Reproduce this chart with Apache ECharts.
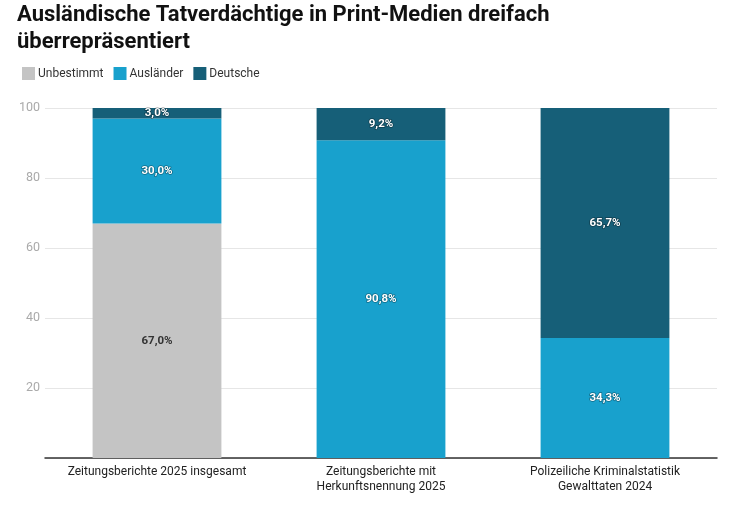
<!DOCTYPE html>
<html><head><meta charset="utf-8">
<script src="https://cdn.jsdelivr.net/npm/echarts@6/dist/echarts.min.js"></script>
<style>html,body{margin:0;padding:0;background:#fff}#c{width:734px;height:507px}</style>
</head><body><div id="c"></div>
<script>
const categories = ['Zeitungsberichte 2025 insgesamt', 'Zeitungsberichte mit\nHerkunftsnennung 2025', 'Polizeiliche Kriminalstatistik\nGewalttaten 2024'];
const unbestimmt = [67.0, 0, 0];
const auslaender = [30.0, 90.8, 34.3];
const deutsche = [3.0, 9.2, 65.7];
const yTicks = [20, 40, 60, 80, 100];

const fmt = p => p.value ? p.value.toFixed(1).replace('.', ',') + '%' : '';
const whiteLabel = {show: true, formatter: fmt, color: '#fff', fontFamily: 'Roboto', fontWeight: 'bold', fontSize: 11.5,
  textBorderColor: 'rgba(0,0,0,0.35)', textBorderWidth: 1.5};
const chart = echarts.init(document.getElementById('c'));
chart.setOption({
  animation: false,
  textStyle: {fontFamily: 'Roboto'},
  title: {text: 'Ausländische Tatverdächtige in Print-Medien dreifach\nüberrepräsentiert', left: 17, top: 2, padding: 0,
    textStyle: {fontFamily: 'Roboto', fontWeight: 'bold', fontSize: 22, color: '#111', lineHeight: 27}},
  legend: {left: 17, top: 62, itemWidth: 13, itemHeight: 13, itemGap: 10, icon: 'rect',
    textStyle: {fontFamily: 'Roboto', fontSize: 12, color: '#333', padding: [0, 0, 0, -2]},
    data: ['Unbestimmt', 'Ausländer', 'Deutsche']},
  grid: {left: 45, right: 17, top: 108, bottom: 49},
  xAxis: {type: 'category', data: categories,
    axisLine: {lineStyle: {color: '#333', width: 1.5}}, axisTick: {show: false},
    axisLabel: {color: '#222', fontSize: 12, lineHeight: 15, margin: 6, interval: 0}},
  yAxis: {type: 'value', min: 0, max: 100, interval: 20,
    axisLabel: {color: '#aaa', fontSize: 12.5, margin: 5, formatter: v => yTicks.includes(v) ? String(v) : ''},
    splitLine: {lineStyle: {color: '#e6e6e6'}}, axisLine: {show: false}, axisTick: {show: false}},
  series: [
    {name: 'Unbestimmt', type: 'bar', stack: 's', data: unbestimmt, barWidth: '57.5%', itemStyle: {color: '#c4c4c4'},
      label: {show: true, formatter: fmt, color: '#333', fontFamily: 'Roboto', fontWeight: 'bold', fontSize: 11.5}},
    {name: 'Ausländer', type: 'bar', stack: 's', data: auslaender, itemStyle: {color: '#18a1cd'}, label: whiteLabel},
    {name: 'Deutsche', type: 'bar', stack: 's', data: deutsche, itemStyle: {color: '#165f78'}, label: whiteLabel}
  ]
});
</script></body></html>
